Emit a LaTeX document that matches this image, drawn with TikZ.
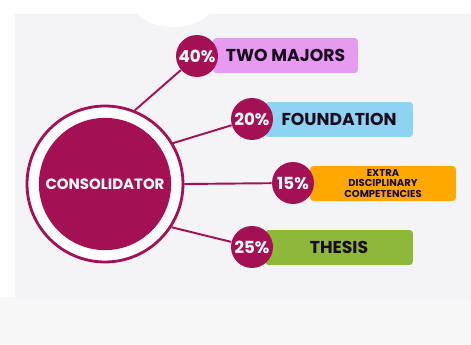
\documentclass[tikz,border=0pt]{standalone}
\usepackage{fontspec}
\setmainfont{Poppins}
\definecolor{wine}{RGB}{163,17,84}
\definecolor{panel}{RGB}{244,244,246}
\definecolor{floor}{RGB}{247,247,248}
\definecolor{ink}{RGB}{26,10,30}
\definecolor{lilac}{RGB}{229,155,239}
\definecolor{sky}{RGB}{143,211,242}
\definecolor{amber}{RGB}{255,168,0}
\definecolor{leaf}{RGB}{141,184,58}

\begin{document}
\begin{tikzpicture}[x=0.02cm, y=-0.02cm,
    pct/.style={circle, fill=wine, text=white, minimum size=0.84cm, inner sep=0pt, font=\bfseries\fontsize{9.5}{10}\selectfont},
    bar/.style={rounded corners=2pt, minimum width=2.92cm, minimum height=0.7cm, inner sep=0pt, text=ink, font=\bfseries\fontsize{9.8}{10}\selectfont},
    link/.style={draw=wine, line width=1.1pt}]
    \useasboundingbox (0,0) rectangle (471,345);
    \fill[white] (0,0) rectangle (471,345);
    \fill[panel] (15,14) rectangle (471,297);
    \fill[floor] (0,297) rectangle (471,345);
    \fill[white] (173,0) ellipse (42 and 27);
    \node[circle, draw=wine, line width=1.6pt, fill=white, minimum size=3.12cm] (ring) at (105, 184) {};
    \node[circle, fill=wine, minimum size=2.48cm, text=white, font=\bfseries\fontsize{8.5}{9}\selectfont] (core) at (105, 184) {CONSOLIDATOR};
    \node[bar, fill=lilac, minimum width=2.9cm] (bar40) at (285.5, 55.5) {TWO MAJORS};
    \node[bar, fill=sky, minimum width=2.96cm] (bar20) at (339, 119.5) {FOUNDATION};
    \node[bar, fill=amber, align=center, font=\bfseries\fontsize{5.7}{6}\selectfont] (bar15) at (383, 183.5) {EXTRA\\DISCIPLINARY\\COMPETENCIES};
    \node[bar, fill=leaf, minimum width=2.96cm] (bar25) at (339, 247.5) {THESIS};
    \node[pct] (p40) at (197, 56) {40\%};
    \node[pct] (p20) at (252, 119) {20\%};
    \node[pct] (p15) at (293, 183) {15\%};
    \node[pct] (p25) at (252, 247) {25\%};
    \draw[link] (ring.68) to (p40);
    \draw[link] (ring.31) to (p20);
    \draw[link] (ring.0) to (p15);
    \draw[link] (ring.-33) to (p25);
\end{tikzpicture}
\end{document}
